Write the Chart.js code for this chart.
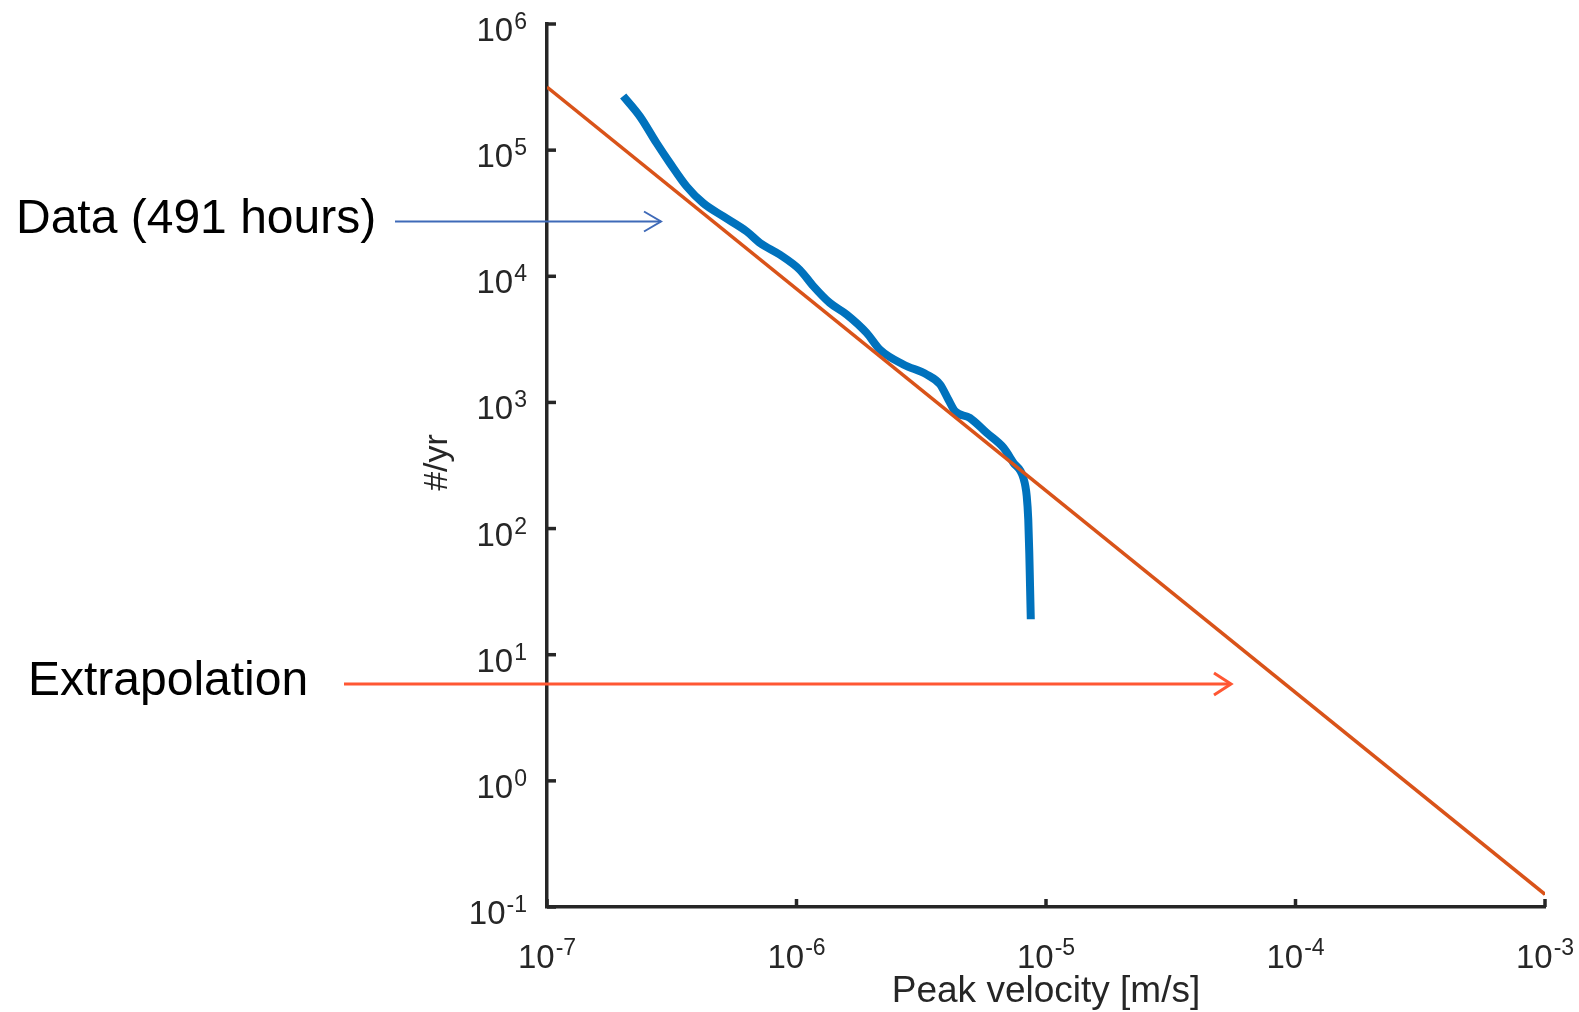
<!DOCTYPE html>
<html>
<head>
<meta charset="utf-8">
<title>Peak velocity rate</title>
<script src="https://cdn.jsdelivr.net/npm/chart.js@4.4.1/dist/chart.umd.min.js"></script>
<style>
    html, body { margin: 0; padding: 0; background: #ffffff; }
    #chart { display: block; }
</style>
</head>
<body>
<canvas id="chart" width="1579" height="1012"></canvas>
<script>
// Measured rate curve: peak velocity [m/s] vs events per year
const dataVelocity = [
    2.02e-7, 2.36e-7, 2.75e-7, 3.11e-7, 3.63e-7, 4.23e-7, 5.09e-7, 6.31e-7,
    7.14e-7, 8.59e-7, 1.03e-6, 1.17e-6, 1.36e-6, 1.59e-6, 1.91e-6, 2.16e-6,
    2.68e-6, 3.33e-6, 3.76e-6, 4.06e-6, 4.32e-6, 4.95e-6, 5.78e-6, 6.75e-6,
    7.40e-6, 8.11e-6, 8.37e-6, 8.49e-6, 8.57e-6, 8.63e-6, 8.69e-6
];
const dataRate = [
    2.69e5, 1.845e5, 1.135e5, 7.89e4, 5.15e4, 3.80e4, 2.98e4, 2.27e4,
    1.837e4, 1.48e4, 1.127e4, 8320, 6150, 4970, 3560, 2620,
    2000, 1660, 1390, 1054, 851, 755, 574, 438,
    333, 253, 181, 118, 64.4, 35.1, 19.1
];

// Power-law fit carried out to higher velocities
const fitVelocity = [1e-7, 1e-3];
const fitRate = [3.16e5, 0.126];

// Decade ticks (exponents)
const xTickExponents = [-7, -6, -5, -4, -3];
const yTickExponents = [-1, 0, 1, 2, 3, 4, 5, 6];

const axisColor = '#262626';
const fontFamily = 'Liberation Sans, Arial, Helvetica, sans-serif';

// Callouts on the left of the axes
const callouts = [
    { text: 'Data (491 hours)', textX: 16, textY: 233, x0: 395, x1: 661, y: 221.5, color: '#3F6AB8', width: 2, head: 10 },
    { text: 'Extrapolation', textX: 28, textY: 695, x0: 344, x1: 1231, y: 684, color: '#FF5733', width: 3, head: 11 }
];

const toPoints = (xs, ys) => xs.map((x, i) => ({ x: x, y: ys[i] }));

// "10" with a raised exponent
const drawPower = (ctx, exp, x, baseY, expY, align) => {
    const base = '10';
    const sup = String(exp);
    ctx.font = `33px ${fontFamily}`;
    const wb = ctx.measureText(base).width;
    ctx.font = `23px ${fontFamily}`;
    const we = ctx.measureText(sup).width;
    const total = wb + 1 + we;
    const start = align === 'right' ? x - total : x - total / 2;

    ctx.font = `33px ${fontFamily}`;
    ctx.fillText(base, start, baseY);
    ctx.font = `23px ${fontFamily}`;
    ctx.fillText(sup, start + wb + 1, expY);
};

const axesPlugin = {
    id: 'matlabAxes',
    afterDraw(chart) {
        const ctx = chart.ctx;
        const { left, right, top, bottom } = chart.chartArea;
        const xs = chart.scales.x;
        const ys = chart.scales.y;

        ctx.save();
        ctx.strokeStyle = axisColor;
        ctx.fillStyle = axisColor;
        ctx.lineWidth = 3.5;
        ctx.textAlign = 'left';
        ctx.textBaseline = 'alphabetic';

        // inward tick marks and decade labels
        yTickExponents.forEach(e => {
            const py = ys.getPixelForValue(Math.pow(10, e));
            ctx.beginPath();
            ctx.moveTo(left, py);
            ctx.lineTo(left + 9, py);
            ctx.stroke();
            drawPower(ctx, e, left - 20, py + 17, py + 5, 'right');
        });
        xTickExponents.forEach(e => {
            const px = xs.getPixelForValue(Math.pow(10, e));
            ctx.beginPath();
            ctx.moveTo(px, bottom);
            ctx.lineTo(px, bottom - 8);
            ctx.stroke();
            drawPower(ctx, e, px, bottom + 61, bottom + 48, 'center');
        });

        // axis titles
        ctx.font = `37px ${fontFamily}`;
        ctx.textAlign = 'center';
        ctx.fillText('Peak velocity [m/s]', (left + right) / 2, bottom + 95);

        ctx.save();
        ctx.translate(left - 109, (top + bottom) / 2 - 3);
        ctx.rotate(-Math.PI / 2);
        ctx.font = `34px ${fontFamily}`;
        ctx.textBaseline = 'middle';
        ctx.fillText('#/yr', 0, 0);
        ctx.restore();

        // callout labels with open arrowheads
        callouts.forEach(c => {
            ctx.fillStyle = '#000000';
            ctx.font = `48px ${fontFamily}`;
            ctx.textAlign = 'left';
            ctx.textBaseline = 'alphabetic';
            ctx.fillText(c.text, c.textX, c.textY);

            ctx.strokeStyle = c.color;
            ctx.lineWidth = c.width;
            ctx.lineCap = 'butt';
            ctx.beginPath();
            ctx.moveTo(c.x0, c.y);
            ctx.lineTo(c.x1, c.y);
            ctx.stroke();
            ctx.beginPath();
            ctx.moveTo(c.x1 - 17, c.y - c.head);
            ctx.lineTo(c.x1, c.y);
            ctx.lineTo(c.x1 - 17, c.y + c.head);
            ctx.stroke();
        });
        ctx.restore();
    }
};

const decadeScale = (min, max) => ({
    type: 'logarithmic',
    min: min,
    max: max,
    ticks: { display: false },
    grid: { display: false, drawTicks: false },
    border: { display: true, color: axisColor, width: 3.5 }
});

new Chart(document.getElementById('chart'), {
    type: 'line',
    data: {
        datasets: [
            {
                label: 'Extrapolation',
                data: toPoints(fitVelocity, fitRate),
                borderColor: '#D95319',
                borderWidth: 3.5,
                pointRadius: 0,
                order: 0
            },
            {
                label: 'Data (491 hours)',
                data: toPoints(dataVelocity, dataRate),
                borderColor: '#0072BD',
                borderWidth: 8,
                borderCapStyle: 'butt',
                borderJoinStyle: 'round',
                cubicInterpolationMode: 'monotone',
                pointRadius: 0,
                order: 1
            }
        ]
    },
    options: {
        responsive: false,
        animation: false,
        layout: { padding: { left: 547, right: 34, top: 24, bottom: 105 } },
        plugins: {
            legend: { display: false },
            tooltip: { enabled: false }
        },
        scales: {
            x: decadeScale(1e-7, 1e-3),
            y: decadeScale(0.1, 1e6)
        }
    },
    plugins: [axesPlugin]
});
</script>
</body>
</html>
